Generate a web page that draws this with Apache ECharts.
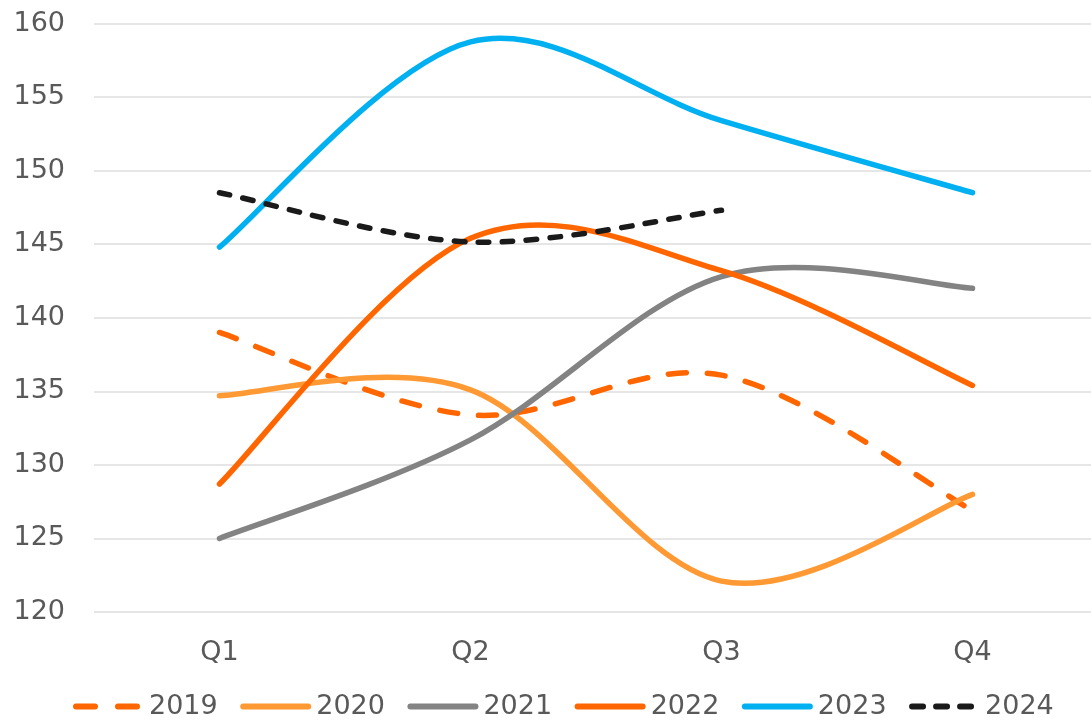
<!DOCTYPE html>
<html>
<head>
<meta charset="utf-8">
<script src="https://cdn.jsdelivr.net/npm/echarts@6/dist/echarts.min.js"></script>
<style>html,body{margin:0;padding:0;background:#fff;}#c{width:1091px;height:720px;}</style>
</head>
<body>
<div id="c"></div>
<script>
const categories = ['Q1', 'Q2', 'Q3', 'Q4'];
const s2019 = [139.0, 133.4, 136.1, 126.9];
const s2020 = [134.7, 135.1, 122.1, 128.0];
const s2021 = [125.0, 131.7, 142.8, 142.0];
const s2022 = [128.7, 145.4, 143.2, 135.4];
const s2023 = [144.8, 158.75, 153.4, 148.5];
const s2024 = [148.5, 145.15, 147.3];
const yTicks = { min: 120, max: 160, interval: 5 };

const FONT = 'DejaVu Sans';
const LW = 5.5;

// Excel-style (Catmull-Rom) smoothing through points placed by the library's scales
function smoothPath(pts) {
  let d = 'M' + pts[0][0] + ',' + pts[0][1];
  for (let i = 0; i < pts.length - 1; i++) {
    const p0 = pts[Math.max(i - 1, 0)], p1 = pts[i], p2 = pts[i + 1], p3 = pts[Math.min(i + 2, pts.length - 1)];
    const c1x = p1[0] + (p2[0] - p0[0]) / 6, c1y = p1[1] + (p2[1] - p0[1]) / 6;
    const c2x = p2[0] - (p3[0] - p1[0]) / 6, c2y = p2[1] - (p3[1] - p1[1]) / 6;
    d += ' C' + c1x + ',' + c1y + ' ' + c2x + ',' + c2y + ' ' + p2[0] + ',' + p2[1];
  }
  return d;
}
function mk(name, values, color, dash) {
  return {
    name: name, type: 'custom', coordinateSystem: 'cartesian2d',
    data: values.map(function (v, i) { return [i, v]; }),
    encode: { x: 0, y: 1 },
    itemStyle: { color: color },
    clip: false,
    renderItem: function (params, api) {
      if (params.dataIndex !== 0) return null;
      const pts = values.map(function (v, i) { return api.coord([i, v]); });
      return {
        type: 'path',
        shape: { pathData: smoothPath(pts) },
        style: { fill: 'none', stroke: color, lineWidth: LW, lineDash: dash || null, lineCap: 'round', lineJoin: 'round' }
      };
    }
  };
}
function pill(a, b) {
  return 'M' + (a + 3) + ',0 H' + (b - 3) + ' A3,3 0 0 1 ' + (b - 3) + ',6 H' + (a + 3) + ' A3,3 0 0 1 ' + (a + 3) + ',0 Z';
}
const solidIcon = 'path://' + pill(0, 71);
const dash19Icon = 'path://' + pill(0, 25) + ' ' + pill(42, 67) + ' M71,0 M71,6';
const dash24Icon = 'path://' + pill(0, 17) + ' ' + pill(24, 41) + ' ' + pill(48, 65) + ' M71,0 M71,6';

const chart = echarts.init(document.getElementById('c'), null, { renderer: 'canvas' });
chart.setOption({
  backgroundColor: '#ffffff',
  animation: false,
  grid: { left: 94, top: 23.5, width: 1004, height: 588.5, outerBoundsMode: 'none', containLabel: false },
  legend: {
    left: 73, top: 693, padding: 0, itemWidth: 71, itemHeight: 6, itemGap: 22.5,
    textStyle: { fontFamily: FONT, fontSize: 27, color: '#595959' },
    data: [
      { name: '2019', icon: dash19Icon },
      { name: '2020', icon: solidIcon },
      { name: '2021', icon: solidIcon },
      { name: '2022', icon: solidIcon },
      { name: '2023', icon: solidIcon },
      { name: '2024', icon: dash24Icon }
    ]
  },
  xAxis: {
    type: 'category', data: categories, boundaryGap: true,
    axisLine: { show: false }, axisTick: { show: false },
    axisLabel: { fontFamily: FONT, fontSize: 27, color: '#595959', margin: 27 },
    splitLine: { show: false }
  },
  yAxis: {
    type: 'value', min: yTicks.min, max: yTicks.max, interval: yTicks.interval,
    axisLine: { show: false }, axisTick: { show: false },
    axisLabel: { fontFamily: FONT, fontSize: 27, color: '#595959', margin: 29 },
    splitLine: { lineStyle: { color: '#e6e6e6', width: 2 } }
  },
  series: [
    mk('2019', s2019, '#ff6600', [18, 21]),
    mk('2020', s2020, '#ff9933'),
    mk('2021', s2021, '#838383'),
    mk('2022', s2022, '#ff6600'),
    mk('2023', s2023, '#00b0f0'),
    mk('2024', s2024, '#1a1a1a', [10.5, 13.5])
  ]
});
</script>
</body>
</html>
